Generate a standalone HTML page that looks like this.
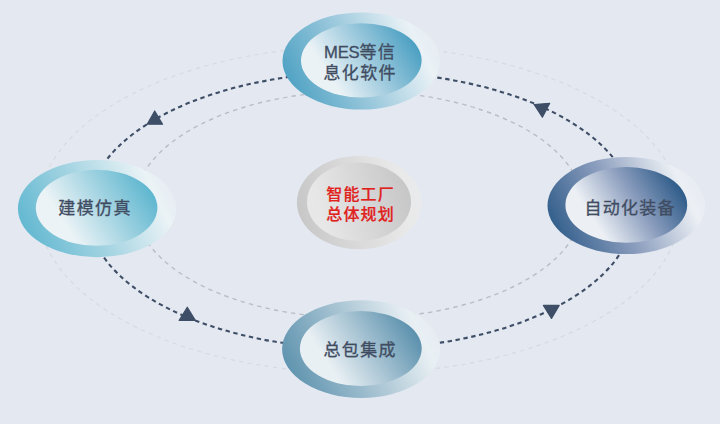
<!DOCTYPE html>
<html lang="zh-CN">
<head>
<meta charset="utf-8">
<title>智能工厂总体规划</title>
<style>
html,body{margin:0;padding:0;}
body{width:720px;height:424px;overflow:hidden;background:#e3e8f1;font-family:"Liberation Sans","Noto Sans CJK SC",sans-serif;}
svg{display:block;position:absolute;left:0;top:0;}
.t{font-family:"Liberation Sans","Noto Sans CJK SC",sans-serif;font-size:17px;letter-spacing:1.4px;fill:#3f4c62;text-anchor:middle;stroke:#3f4c62;stroke-width:0.3px;}
.c{font-family:"Liberation Sans","Noto Sans CJK SC",sans-serif;font-size:16px;letter-spacing:1.2px;font-weight:500;fill:#e0211c;text-anchor:middle;stroke:#e0211c;stroke-width:0.2px;}
</style>
</head>
<body>
<svg width="720" height="424" viewBox="0 0 720 424">
<defs>
  <linearGradient id="g1o" x1="0" y1="0.65" x2="1" y2="0.35"><stop offset="0" stop-color="#4da1c3"/><stop offset="0.44" stop-color="#9ac8dc"/><stop offset="0.88" stop-color="#eaf2f6"/><stop offset="1" stop-color="#e6ebf2"/></linearGradient>
  <linearGradient id="g1i" x1="0" y1="0.7" x2="1" y2="0.3"><stop offset="0" stop-color="#eaf2f6"/><stop offset="0.2" stop-color="#eaf2f6"/><stop offset="0.585" stop-color="#9ac8dc"/><stop offset="0.97" stop-color="#4a9fc2"/></linearGradient>
  <linearGradient id="g2o" x1="0" y1="0.65" x2="1" y2="0.35"><stop offset="0" stop-color="#60b7d0"/><stop offset="0.44" stop-color="#a4d4e2"/><stop offset="0.88" stop-color="#ebf3f6"/><stop offset="1" stop-color="#e6ebf2"/></linearGradient>
  <linearGradient id="g2i" x1="0" y1="0.7" x2="1" y2="0.3"><stop offset="0" stop-color="#ebf3f6"/><stop offset="0.2" stop-color="#ebf3f6"/><stop offset="0.585" stop-color="#a4d4e2"/><stop offset="0.97" stop-color="#5db6cf"/></linearGradient>
  <linearGradient id="g3o" x1="0" y1="0.65" x2="1" y2="0.35"><stop offset="0" stop-color="#305d8a"/><stop offset="0.44" stop-color="#8c9ebe"/><stop offset="0.88" stop-color="#ecf0f5"/><stop offset="1" stop-color="#e6ebf2"/></linearGradient>
  <linearGradient id="g3i" x1="0" y1="0.7" x2="1" y2="0.3"><stop offset="0" stop-color="#ecf0f5"/><stop offset="0.2" stop-color="#ecf0f5"/><stop offset="0.585" stop-color="#8c9ebe"/><stop offset="0.97" stop-color="#2c5a88"/></linearGradient>
  <linearGradient id="g4o" x1="0" y1="0.65" x2="1" y2="0.35"><stop offset="0" stop-color="#5d92ae"/><stop offset="0.44" stop-color="#a2c0d0"/><stop offset="0.88" stop-color="#e9f0f4"/><stop offset="1" stop-color="#e6ebf2"/></linearGradient>
  <linearGradient id="g4i" x1="0" y1="0.7" x2="1" y2="0.3"><stop offset="0" stop-color="#e9f0f4"/><stop offset="0.2" stop-color="#e9f0f4"/><stop offset="0.585" stop-color="#a2c0d0"/><stop offset="0.97" stop-color="#5a90ad"/></linearGradient>
  <linearGradient id="g5o" x1="0" y1="0.57" x2="1" y2="0.43"><stop offset="0" stop-color="#c7c7c7"/><stop offset="0.45" stop-color="#dadada"/><stop offset="0.85" stop-color="#e9e9e9"/><stop offset="1" stop-color="#e9eaec"/></linearGradient>
  <linearGradient id="g5i" x1="0" y1="0.61" x2="1" y2="0.39"><stop offset="0" stop-color="#e8e8e8"/><stop offset="0.12" stop-color="#e7e7e7"/><stop offset="1" stop-color="#c6c6c6"/></linearGradient>
</defs>
<!-- orbits -->
<ellipse cx="359.4" cy="209.6" rx="321" ry="163.6" fill="none" stroke="#d6dae1" stroke-width="1.15" stroke-dasharray="4.2 4.4"/>
<ellipse cx="358.6" cy="204.7" rx="223.7" ry="113.5" fill="none" stroke="#b8bdc6" stroke-width="1.4" stroke-dasharray="4.4 4.2"/>
<ellipse cx="360.7" cy="210.4" rx="273.1" ry="138.3" fill="none" stroke="#3e4e66" stroke-width="2.1" stroke-dasharray="4.4 3.6"/>
<!-- arrows -->
<g fill="#3e4e66" stroke="#3e4e66" stroke-width="1.2" stroke-linejoin="round">
  <polygon points="154.7,111 147.2,124.2 162.6,124.2"/>
  <polygon points="534.1,104.5 549.7,103.3 542.4,117.2"/>
  <polygon points="187.3,307.2 179.2,320.4 195.3,320.4"/>
  <polygon points="543.4,305.4 559.2,305.4 551.5,318.4"/>
</g>
<!-- nodes -->
<ellipse cx="361.3" cy="61" rx="78.8" ry="48.6" fill="url(#g1o)"/>
<ellipse cx="361.3" cy="60.4" rx="60.3" ry="37.2" fill="url(#g1i)"/>
<ellipse cx="97.1" cy="208.6" rx="79.2" ry="48.6" fill="url(#g2o)"/>
<ellipse cx="96.6" cy="207.8" rx="60.8" ry="38" fill="url(#g2i)"/>
<ellipse cx="626.3" cy="205.5" rx="78.8" ry="48.6" fill="url(#g3o)"/>
<ellipse cx="626.3" cy="204.9" rx="60.9" ry="37.9" fill="url(#g3i)"/>
<ellipse cx="361.2" cy="349.1" rx="79.1" ry="48.8" fill="url(#g4o)"/>
<ellipse cx="360.8" cy="348.6" rx="60.9" ry="37.5" fill="url(#g4i)"/>
<ellipse cx="359.3" cy="202.5" rx="62.4" ry="46.7" fill="url(#g5o)"/>
<ellipse cx="359" cy="201.9" rx="52" ry="39.4" fill="url(#g5i)"/>
<!-- labels -->
<text class="t" x="360.2" y="57.9"><tspan font-size="16.6" letter-spacing="-0.2">MES</tspan>等信</text>
<text class="t" x="360.2" y="79.1">息化软件</text>
<text class="t" x="95.1" y="214.4">建模仿真</text>
<text class="t" x="630.1" y="214.1" style="letter-spacing:1.2px">自动化装备</text>
<text class="t" x="360.2" y="355.7">总包集成</text>
<text class="c" x="360.6" y="199.5">智能工厂</text>
<text class="c" x="360.6" y="220.3">总体规划</text>
</svg>
</body>
</html>
